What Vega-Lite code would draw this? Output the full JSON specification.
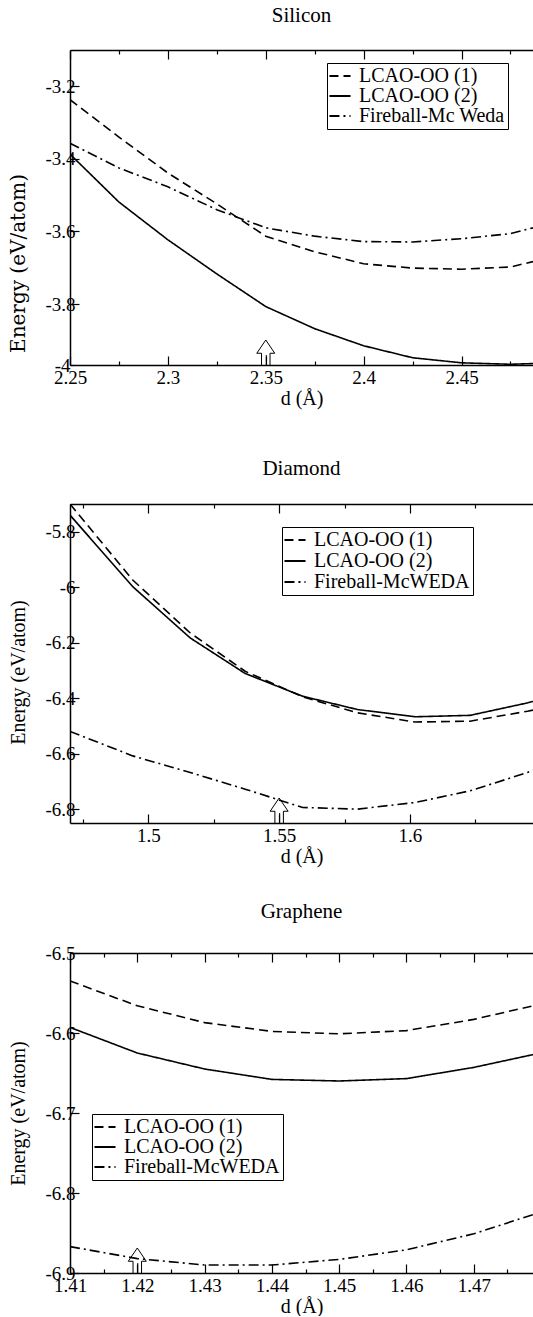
{
  "$schema": "https://vega.github.io/schema/vega-lite/v6.json",
  "padding": {"left": 8, "top": 5, "right": 0, "bottom": 0},
  "spacing": 50,
  "resolve": {"scale": {"x": "independent", "y": "independent", "strokeDash": "independent"}},
  "config": {
    "view": {"stroke": null},
    "font": "Liberation Serif",
    "axis": {"labelFont": "Liberation Serif", "labelFontSize": 19, "labelColor": "black", "titleFont": "Liberation Serif", "titleFontSize": 20, "titleFontWeight": "normal", "titleColor": "black", "domainColor": "black", "domainWidth": 1.5, "tickColor": "black", "tickWidth": 1.2, "grid": false, "labelFlush": false, "labelOverlap": false, "labelBound": false},
    "title": {"font": "Liberation Serif", "fontSize": 21, "fontWeight": "normal", "color": "black", "anchor": "middle"},
    "legend": {"title": null, "symbolType": "M-1.17,0L1.17,0", "symbolSize": 324, "symbolStrokeWidth": 1.8, "symbolStrokeColor": "black", "symbolFillColor": "transparent", "labelFont": "Liberation Serif", "labelFontSize": 20, "labelColor": "black", "strokeColor": "black", "fillColor": "white", "padding": 3, "rowPadding": 0, "labelOffset": 9, "labelLimit": 400, "cornerRadius": 0}
  },
  "vconcat": [
    {
      "width": 463, "height": 315,
      "title": {"text": "Silicon", "offset": 23},
      "layer": [
        {
          "data": {"values": [
            {"d": 2.25, "E": -3.237, "m": "LCAO-OO (1)"},
            {"d": 2.275, "E": -3.340, "m": "LCAO-OO (1)"},
            {"d": 2.3, "E": -3.439, "m": "LCAO-OO (1)"},
            {"d": 2.325, "E": -3.524, "m": "LCAO-OO (1)"},
            {"d": 2.35, "E": -3.613, "m": "LCAO-OO (1)"},
            {"d": 2.375, "E": -3.656, "m": "LCAO-OO (1)"},
            {"d": 2.4, "E": -3.689, "m": "LCAO-OO (1)"},
            {"d": 2.425, "E": -3.701, "m": "LCAO-OO (1)"},
            {"d": 2.45, "E": -3.704, "m": "LCAO-OO (1)"},
            {"d": 2.475, "E": -3.698, "m": "LCAO-OO (1)"},
            {"d": 2.4865, "E": -3.683, "m": "LCAO-OO (1)"},
            {"d": 2.25, "E": -3.387, "m": "LCAO-OO (2)"},
            {"d": 2.275, "E": -3.519, "m": "LCAO-OO (2)"},
            {"d": 2.3, "E": -3.623, "m": "LCAO-OO (2)"},
            {"d": 2.325, "E": -3.717, "m": "LCAO-OO (2)"},
            {"d": 2.35, "E": -3.807, "m": "LCAO-OO (2)"},
            {"d": 2.375, "E": -3.868, "m": "LCAO-OO (2)"},
            {"d": 2.4, "E": -3.915, "m": "LCAO-OO (2)"},
            {"d": 2.425, "E": -3.948, "m": "LCAO-OO (2)"},
            {"d": 2.45, "E": -3.962, "m": "LCAO-OO (2)"},
            {"d": 2.475, "E": -3.966, "m": "LCAO-OO (2)"},
            {"d": 2.4865, "E": -3.964, "m": "LCAO-OO (2)"},
            {"d": 2.25, "E": -3.357, "m": "Fireball-Mc Weda"},
            {"d": 2.275, "E": -3.425, "m": "Fireball-Mc Weda"},
            {"d": 2.3, "E": -3.477, "m": "Fireball-Mc Weda"},
            {"d": 2.325, "E": -3.540, "m": "Fireball-Mc Weda"},
            {"d": 2.35, "E": -3.590, "m": "Fireball-Mc Weda"},
            {"d": 2.375, "E": -3.613, "m": "Fireball-Mc Weda"},
            {"d": 2.4, "E": -3.628, "m": "Fireball-Mc Weda"},
            {"d": 2.425, "E": -3.629, "m": "Fireball-Mc Weda"},
            {"d": 2.45, "E": -3.620, "m": "Fireball-Mc Weda"},
            {"d": 2.475, "E": -3.606, "m": "Fireball-Mc Weda"},
            {"d": 2.4865, "E": -3.590, "m": "Fireball-Mc Weda"}
          ]},
          "mark": {"type": "line", "color": "black", "strokeWidth": 1.6, "clip": true},
          "encoding": {
            "x": {"field": "d", "type": "quantitative", "scale": {"domain": [2.25, 2.4865], "nice": false, "zero": false},
              "axis": {"orient": "bottom", "title": "d (Å)", "values": [2.25, 2.275, 2.3, 2.325, 2.35, 2.375, 2.4, 2.425, 2.45, 2.475],
                "labelExpr": "indexof([2.25, 2.3, 2.35, 2.4, 2.45], datum.value) >= 0 ? '' + datum.value : ''",
                "tickSize": {"condition": {"test": "indexof([2.25, 2.3, 2.35, 2.4, 2.45], datum.value) >= 0", "value": -9}, "value": -4},
                "labelPadding": 12, "titlePadding": -4}},
            "y": {"field": "E", "type": "quantitative", "scale": {"domain": [-3.968, -3.1], "nice": false, "zero": false},
              "axis": {"orient": "left", "title": "Energy (eV/atom)", "values": [-3.968, -3.9, -3.8, -3.7, -3.6, -3.5, -3.4, -3.3, -3.2],
                "labelExpr": "datum.value == -3.968 ? '-4' : (indexof([-3.2, -3.4, -3.6, -3.8], datum.value) >= 0 ? '' + datum.value : '')",
                "tickSize": {"condition": {"test": "indexof([-3.2, -3.4, -3.6, -3.8], datum.value) >= 0", "value": -9}, "value": -4},
                "labelPadding": 4, "titlePadding": 16, "titleFont": "DejaVu Serif", "titleFontSize": 20, "titleY": 213}},
            "strokeDash": {"field": "m", "type": "nominal",
              "scale": {"domain": ["LCAO-OO (1)", "LCAO-OO (2)", "Fireball-Mc Weda"], "range": [[9, 5], [1, 0], [10, 4, 2, 4]]},
              "legend": {"orient": "none", "legendX": 257, "legendY": 13}},
            "order": {"field": "d", "type": "quantitative"}
          }
        },
        {
          "data": {"values": [{"d": 2.35, "E": -3.968}]},
          "mark": {"type": "point", "shape": "M-0.17,0 L-0.17,-0.47 L-0.36,-0.47 L0,-1 L0.36,-0.47 L0.17,-0.47 L0.17,0 M0.02,-0.4 L0.02,0", "size": 2500, "filled": false, "stroke": "black", "strokeWidth": 1, "opacity": 1},
          "encoding": {
            "x": {"field": "d", "type": "quantitative",
              "axis": {"orient": "top", "labels": false, "title": null, "values": [2.25, 2.275, 2.3, 2.325, 2.35, 2.375, 2.4, 2.425, 2.45, 2.475],
                "tickSize": {"condition": {"test": "indexof([2.25, 2.3, 2.35, 2.4, 2.45], datum.value) >= 0", "value": -9}, "value": -4}}},
            "y": {"field": "E", "type": "quantitative"}
          }
        }
      ],
      "resolve": {"axis": {"x": "independent"}}
    },
    {
      "vconcat": [
        {
          "width": 463, "height": 319,
          "title": {"text": "Diamond", "offset": 24},
          "layer": [
            {
              "data": {"values": [
                {"d": 1.47, "E": -5.70, "m": "LCAO-OO (1)"},
                {"d": 1.494, "E": -5.974, "m": "LCAO-OO (1)"},
                {"d": 1.516, "E": -6.165, "m": "LCAO-OO (1)"},
                {"d": 1.537, "E": -6.303, "m": "LCAO-OO (1)"},
                {"d": 1.559, "E": -6.395, "m": "LCAO-OO (1)"},
                {"d": 1.58, "E": -6.453, "m": "LCAO-OO (1)"},
                {"d": 1.602, "E": -6.486, "m": "LCAO-OO (1)"},
                {"d": 1.623, "E": -6.483, "m": "LCAO-OO (1)"},
                {"d": 1.645, "E": -6.447, "m": "LCAO-OO (1)"},
                {"d": 1.6471, "E": -6.443, "m": "LCAO-OO (1)"},
                {"d": 1.47, "E": -5.740, "m": "LCAO-OO (2)"},
                {"d": 1.494, "E": -5.998, "m": "LCAO-OO (2)"},
                {"d": 1.516, "E": -6.183, "m": "LCAO-OO (2)"},
                {"d": 1.537, "E": -6.311, "m": "LCAO-OO (2)"},
                {"d": 1.559, "E": -6.393, "m": "LCAO-OO (2)"},
                {"d": 1.58, "E": -6.441, "m": "LCAO-OO (2)"},
                {"d": 1.602, "E": -6.467, "m": "LCAO-OO (2)"},
                {"d": 1.623, "E": -6.462, "m": "LCAO-OO (2)"},
                {"d": 1.645, "E": -6.417, "m": "LCAO-OO (2)"},
                {"d": 1.6471, "E": -6.412, "m": "LCAO-OO (2)"},
                {"d": 1.47, "E": -6.52, "m": "Fireball-McWEDA"},
                {"d": 1.494, "E": -6.608, "m": "Fireball-McWEDA"},
                {"d": 1.516, "E": -6.668, "m": "Fireball-McWEDA"},
                {"d": 1.537, "E": -6.728, "m": "Fireball-McWEDA"},
                {"d": 1.559, "E": -6.794, "m": "Fireball-McWEDA"},
                {"d": 1.58, "E": -6.800, "m": "Fireball-McWEDA"},
                {"d": 1.602, "E": -6.776, "m": "Fireball-McWEDA"},
                {"d": 1.623, "E": -6.734, "m": "Fireball-McWEDA"},
                {"d": 1.645, "E": -6.668, "m": "Fireball-McWEDA"},
                {"d": 1.6471, "E": -6.660, "m": "Fireball-McWEDA"}
              ]},
              "mark": {"type": "line", "color": "black", "strokeWidth": 1.6, "clip": true},
              "encoding": {
                "x": {"field": "d", "type": "quantitative", "scale": {"domain": [1.47, 1.6471], "nice": false, "zero": false},
                  "axis": {"orient": "bottom", "title": "d (Å)", "values": [1.475, 1.5, 1.525, 1.55, 1.575, 1.6, 1.625],
                    "labelExpr": "indexof([1.5, 1.55, 1.6], datum.value) >= 0 ? '' + datum.value : ''",
                    "tickSize": {"condition": {"test": "indexof([1.5, 1.55, 1.6], datum.value) >= 0", "value": -9}, "value": -4},
                    "labelPadding": 12, "titlePadding": -4}},
                "y": {"field": "E", "type": "quantitative", "scale": {"domain": [-6.85, -5.7], "nice": false, "zero": false},
                  "axis": {"orient": "left", "title": "Energy (eV/atom)", "values": [-6.8, -6.7, -6.6, -6.5, -6.4, -6.3, -6.2, -6.1, -6, -5.9, -5.8],
                    "labelExpr": "indexof([-5.8, -6, -6.2, -6.4, -6.6, -6.8], datum.value) >= 0 ? '' + datum.value : ''",
                    "tickSize": {"condition": {"test": "indexof([-5.8, -6, -6.2, -6.4, -6.6, -6.8], datum.value) >= 0", "value": -9}, "value": -4},
                    "labelPadding": 4, "titlePadding": 16, "titleY": 168}},
                "strokeDash": {"field": "m", "type": "nominal",
                  "scale": {"domain": ["LCAO-OO (1)", "LCAO-OO (2)", "Fireball-McWEDA"], "range": [[9, 5], [1, 0], [10, 4, 2, 4]]},
                  "legend": {"orient": "none", "legendX": 212, "legendY": 23, "rowPadding": 1}},
                "order": {"field": "d", "type": "quantitative"}
              }
            },
            {
              "data": {"values": [{"d": 1.55, "E": -6.85}]},
              "mark": {"type": "point", "shape": "M-0.17,0 L-0.17,-0.47 L-0.36,-0.47 L0,-1 L0.36,-0.47 L0.17,-0.47 L0.17,0 M0.02,-0.4 L0.02,0", "size": 2500, "filled": false, "stroke": "black", "strokeWidth": 1, "opacity": 1},
              "encoding": {
                "x": {"field": "d", "type": "quantitative",
                  "axis": {"orient": "top", "labels": false, "title": null, "values": [1.475, 1.5, 1.525, 1.55, 1.575, 1.6, 1.625],
                    "tickSize": {"condition": {"test": "indexof([1.5, 1.55, 1.6], datum.value) >= 0", "value": -9}, "value": -4}}},
                "y": {"field": "E", "type": "quantitative"}
              }
            }
          ],
          "resolve": {"axis": {"x": "independent"}}
        },
        {
          "width": 463, "height": 320,
          "title": {"text": "Graphene", "offset": 22},
          "layer": [
            {
              "data": {"values": [
                {"d": 1.41, "E": -6.535, "m": "LCAO-OO (1)"},
                {"d": 1.42, "E": -6.566, "m": "LCAO-OO (1)"},
                {"d": 1.43, "E": -6.587, "m": "LCAO-OO (1)"},
                {"d": 1.44, "E": -6.598, "m": "LCAO-OO (1)"},
                {"d": 1.45, "E": -6.601, "m": "LCAO-OO (1)"},
                {"d": 1.46, "E": -6.597, "m": "LCAO-OO (1)"},
                {"d": 1.47, "E": -6.583, "m": "LCAO-OO (1)"},
                {"d": 1.4788, "E": -6.566, "m": "LCAO-OO (1)"},
                {"d": 1.41, "E": -6.593, "m": "LCAO-OO (2)"},
                {"d": 1.42, "E": -6.625, "m": "LCAO-OO (2)"},
                {"d": 1.43, "E": -6.645, "m": "LCAO-OO (2)"},
                {"d": 1.44, "E": -6.658, "m": "LCAO-OO (2)"},
                {"d": 1.45, "E": -6.660, "m": "LCAO-OO (2)"},
                {"d": 1.46, "E": -6.657, "m": "LCAO-OO (2)"},
                {"d": 1.47, "E": -6.643, "m": "LCAO-OO (2)"},
                {"d": 1.4788, "E": -6.627, "m": "LCAO-OO (2)"},
                {"d": 1.41, "E": -6.867, "m": "Fireball-McWEDA"},
                {"d": 1.42, "E": -6.882, "m": "Fireball-McWEDA"},
                {"d": 1.43, "E": -6.890, "m": "Fireball-McWEDA"},
                {"d": 1.44, "E": -6.890, "m": "Fireball-McWEDA"},
                {"d": 1.45, "E": -6.883, "m": "Fireball-McWEDA"},
                {"d": 1.46, "E": -6.871, "m": "Fireball-McWEDA"},
                {"d": 1.47, "E": -6.851, "m": "Fireball-McWEDA"},
                {"d": 1.4788, "E": -6.827, "m": "Fireball-McWEDA"}
              ]},
              "mark": {"type": "line", "color": "black", "strokeWidth": 1.6, "clip": true},
              "encoding": {
                "x": {"field": "d", "type": "quantitative", "scale": {"domain": [1.41, 1.4788], "nice": false, "zero": false},
                  "axis": {"orient": "bottom", "title": "d (Å)", "values": [1.41, 1.415, 1.42, 1.425, 1.43, 1.435, 1.44, 1.445, 1.45, 1.455, 1.46, 1.465, 1.47, 1.475],
                    "labelExpr": "indexof([1.41, 1.42, 1.43, 1.44, 1.45, 1.46, 1.47], datum.value) >= 0 ? '' + datum.value : ''",
                    "tickSize": {"condition": {"test": "indexof([1.41, 1.42, 1.43, 1.44, 1.45, 1.46, 1.47], datum.value) >= 0", "value": -9}, "value": -4},
                    "labelPadding": 12, "titlePadding": -4}},
                "y": {"field": "E", "type": "quantitative", "scale": {"domain": [-6.9, -6.5], "nice": false, "zero": false},
                  "axis": {"orient": "left", "title": "Energy (eV/atom)", "values": [-6.9, -6.85, -6.8, -6.75, -6.7, -6.65, -6.6, -6.55, -6.5],
                    "labelExpr": "indexof([-6.5, -6.6, -6.7, -6.8, -6.9], datum.value) >= 0 ? '' + datum.value : ''",
                    "tickSize": {"condition": {"test": "indexof([-6.5, -6.6, -6.7, -6.8, -6.9], datum.value) >= 0", "value": -9}, "value": -4},
                    "labelPadding": 4, "titlePadding": 16}},
                "strokeDash": {"field": "m", "type": "nominal",
                  "scale": {"domain": ["LCAO-OO (1)", "LCAO-OO (2)", "Fireball-McWEDA"], "range": [[9, 5], [1, 0], [10, 4, 2, 4]]},
                  "legend": {"orient": "none", "legendX": 22, "legendY": 161}},
                "order": {"field": "d", "type": "quantitative"}
              }
            },
            {
              "data": {"values": [{"d": 1.42, "E": -6.9}]},
              "mark": {"type": "point", "shape": "M-0.17,0 L-0.17,-0.47 L-0.36,-0.47 L0,-1 L0.36,-0.47 L0.17,-0.47 L0.17,0 M0.02,-0.4 L0.02,0", "size": 2500, "filled": false, "stroke": "black", "strokeWidth": 1, "opacity": 1},
              "encoding": {
                "x": {"field": "d", "type": "quantitative",
                  "axis": {"orient": "top", "labels": false, "title": null, "values": [1.41, 1.415, 1.42, 1.425, 1.43, 1.435, 1.44, 1.445, 1.45, 1.455, 1.46, 1.465, 1.47, 1.475],
                    "tickSize": {"condition": {"test": "indexof([1.41, 1.42, 1.43, 1.44, 1.45, 1.46, 1.47], datum.value) >= 0", "value": -9}, "value": -4}}},
                "y": {"field": "E", "type": "quantitative"}
              }
            }
          ],
          "resolve": {"axis": {"x": "independent"}}
        }
      ],
      "spacing": 35,
      "resolve": {"scale": {"x": "independent", "y": "independent", "strokeDash": "independent"}}
    }
  ]
}
